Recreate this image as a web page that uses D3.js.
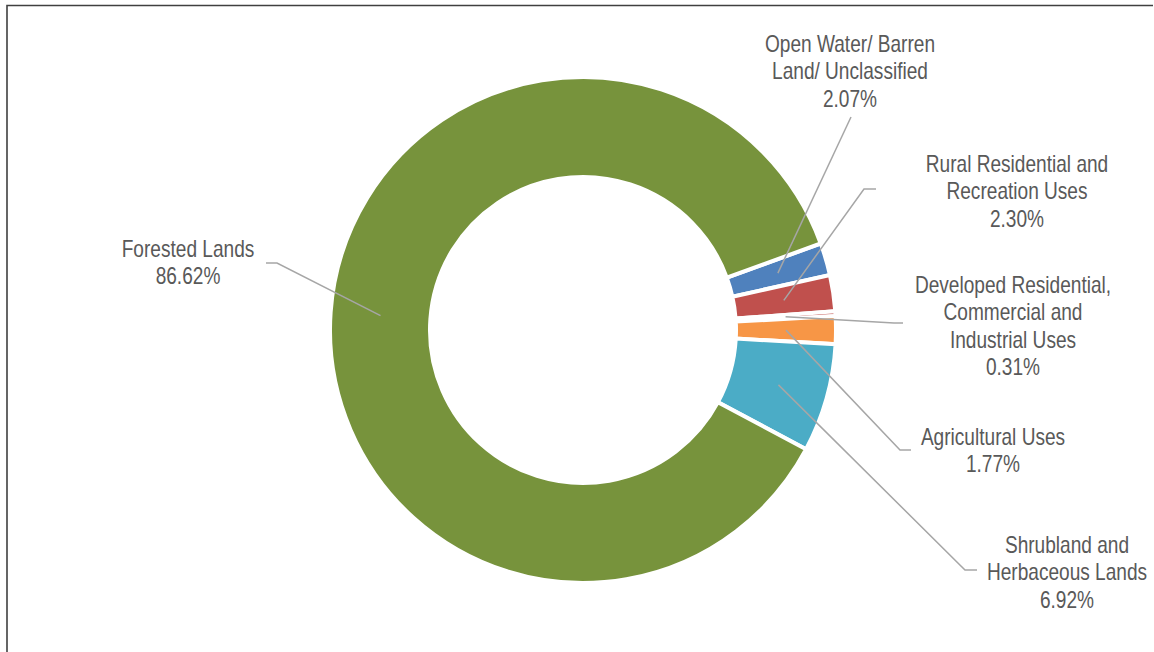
<!DOCTYPE html>
<html>
<head>
<meta charset="utf-8">
<script src="https://cdn.jsdelivr.net/npm/d3@7"></script>
<style>
  html, body { margin: 0; padding: 0; background: #fff; }
  #chart { width: 1154px; height: 652px; }
  .lbl { font-family: "Liberation Sans", Arial, sans-serif; font-size: 23px; fill: #595959; }
</style>
</head>
<body>
<div id="chart"></div>
<script>
// data
const categories = [
    "Open Water/ Barren Land/ Unclassified",
    "Rural Residential and Recreation Uses",
    "Developed Residential, Commercial and Industrial Uses",
    "Agricultural Uses",
    "Shrubland and Herbaceous Lands",
    "Forested Lands"
];
const values = [2.07, 2.30, 0.31, 1.77, 6.92, 86.62];
const labelLines = [
    ["Open Water/ Barren", "Land/ Unclassified"],
    ["Rural Residential and", "Recreation Uses"],
    ["Developed Residential,", "Commercial and", "Industrial Uses"],
    ["Agricultural Uses"],
    ["Shrubland and", "Herbaceous Lands"],
    ["Forested Lands"]
];
const colors = ["#4F81BD", "#C0504D", "#C0504D", "#F79646", "#4BACC6", "#77933C"];

// label layout (text centre x, first baseline y, leader elbow + end)
const labelLayout = [
    { x: 850, y: 52, elbow: null, end: [851, 117] },
    { x: 1017, y: 172, elbow: [864, 189], end: [876, 189] },
    { x: 1013, y: 293, elbow: [894, 323], end: [903, 323] },
    { x: 993, y: 445, elbow: [900, 450], end: [911, 450] },
    { x: 1067, y: 553, elbow: [965, 570], end: [977, 570] },
    { x: 188, y: 257, elbow: [277, 263], end: [266, 263] }
];

const width = 1154, height = 652;
const cx = 583, cy = 330;
const outerR = 253, innerR = 153;
const lineH = 27.5;
const squeeze = 0.83; // labels are horizontally condensed

const svg = d3.select("#chart").append("svg")
    .attr("width", width)
    .attr("height", height);

// frame
svg.append("path")
    .attr("d", `M7,${height} V5.5 H1153`)
    .attr("fill", "none")
    .attr("stroke", "#404040")
    .attr("stroke-width", 1.6);

const rows = categories.map((c, i) => ({ cat: c, value: values[i], lines: labelLines[i], color: colors[i], layout: labelLayout[i] }));

const start = 70 * Math.PI / 180;
const pie = d3.pie()
    .sort(null)
    .value(d => d.value)
    .startAngle(start)
    .endAngle(start + 2 * Math.PI);

const arc = d3.arc().innerRadius(innerR).outerRadius(outerR);

const arcs = pie(rows);
const g = svg.append("g").attr("transform", `translate(${cx},${cy})`);

g.selectAll("path.slice")
    .data(arcs)
    .join("path")
    .attr("class", "slice")
    .attr("d", arc)
    .attr("fill", d => d.data.color)
    .attr("stroke", "#fff")
    .attr("stroke-width", 4)
    .attr("stroke-linejoin", "miter");

// leader lines
svg.selectAll("polyline.leader")
    .data(arcs)
    .join("polyline")
    .attr("class", "leader")
    .attr("points", d => {
        const c = arc.centroid(d);
        const pts = [[c[0] + cx, c[1] + cy]];
        const l = d.data.layout;
        if (l.elbow) pts.push(l.elbow);
        pts.push(l.end);
        return pts.map(p => p.join(",")).join(" ");
    })
    .attr("fill", "none")
    .attr("stroke", "#A6A6A6")
    .attr("stroke-width", 1.5);

// labels
const fmt = v => v.toFixed(2) + "%";
const labels = svg.selectAll("g.lbl-g")
    .data(rows)
    .join("g")
    .attr("class", "lbl-g")
    .attr("transform", d => `translate(${d.layout.x},${d.layout.y}) scale(${squeeze},1)`)
    .append("text")
    .attr("class", "lbl")
    .attr("text-anchor", "middle");

labels.selectAll("tspan")
    .data(d => d.lines.concat([fmt(d.value)]))
    .join("tspan")
    .attr("x", 0)
    .attr("dy", (d, i) => i === 0 ? 0 : lineH)
    .text(d => d);
</script>
</body>
</html>
